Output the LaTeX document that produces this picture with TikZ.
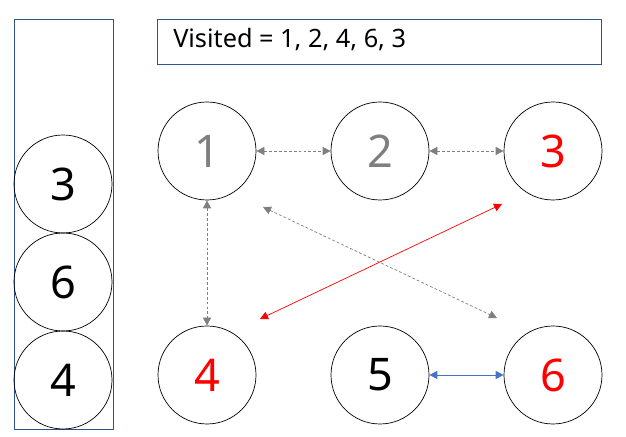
\documentclass[tikz,border=0pt]{standalone}
\usepackage{fontspec}
\setmainfont{Noto Sans}
\usetikzlibrary{arrows.meta,calc}
\definecolor{boxblue}{HTML}{2F528F}
\definecolor{linkblue}{HTML}{4472C4}
\definecolor{visgray}{HTML}{7F7F7F}

\tikzset{
  vertex/.style={draw,circle,line width=0.5pt,minimum size=2.45cm,inner sep=0pt,font=\fontsize{32}{36}\selectfont},
  edge/.style={{Triangle[length=2mm,width=2mm]}-{Triangle[length=2mm,width=2mm]},line width=0.5pt},
  seen/.style={edge,visgray,dash pattern=on 2pt off 1.5pt},
}

\begin{document}
\begin{tikzpicture}
\useasboundingbox (0,0) rectangle (15.65,10.925);

% Stack
\draw[boxblue,line width=0.6pt] (0.35,0.2) rectangle (2.825,10.45);
\node[vertex] (s4) at (1.575,1.425) {4};
\node[vertex] (s6) at (1.575,3.875) {6};
\node[vertex] (s3) at (1.575,6.325) {3};

% Visited list
\draw[boxblue,line width=0.6pt] (3.925,9.325) rectangle (15.025,10.45);
\node[anchor=west,inner sep=0pt,font=\fontsize{18}{22}\selectfont] (visited) at (4.325,9.925) {Visited = 1, 2, 4, 6, 3};

% Graph
\node[vertex,text=visgray] (n1) at (5.175,7.15) {1};
\node[vertex,text=visgray] (n2) at (9.5,7.15) {2};
\node[vertex,text=red] (n3) at (13.825,7.15) {3};
\node[vertex,text=red] (n4) at (5.175,1.55) {4};
\node[vertex] (n5) at (9.5,1.55) {5};
\node[vertex,text=red] (n6) at (13.825,1.55) {6};

\coordinate (c1) at ($(n1)+(1.4,-1.4)$);
\coordinate (c6) at ($(n6)+(-1.4,1.425)$);
\coordinate (c4) at ($(n4)+(1.325,1.4)$);
\coordinate (c3) at ($(n3)+(-1.275,-1.325)$);

\draw[seen] (n1) -- (n2);
\draw[seen] (n2) -- (n3);
\draw[seen] (n1) -- (n4);
\draw[seen] (c1) -- (c6);
\draw[edge,red] (c4) -- (c3);
\draw[edge,linkblue,line width=0.6pt] (n5) -- (n6);
\end{tikzpicture}
\end{document}
